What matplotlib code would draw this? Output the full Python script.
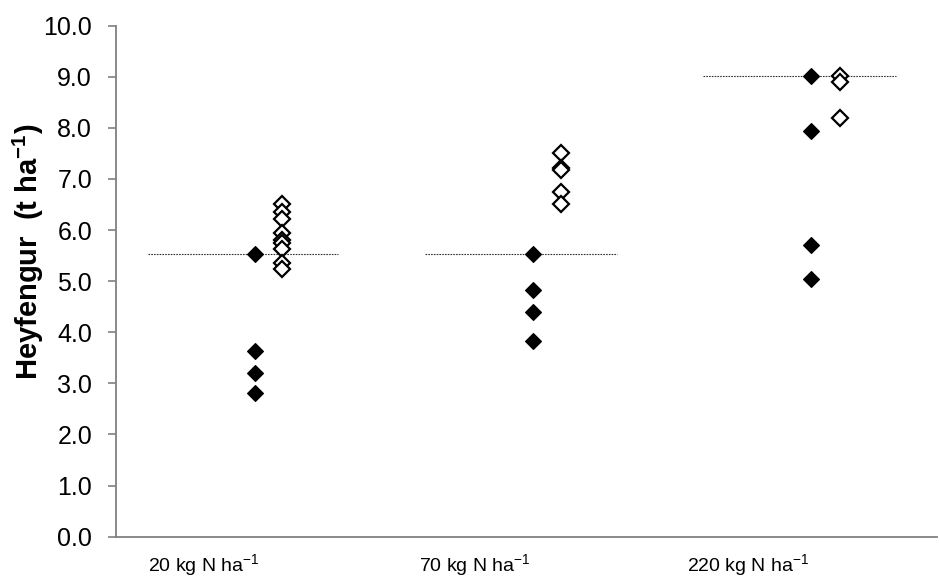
import matplotlib
matplotlib.use("Agg")
import matplotlib.pyplot as plt

plt.rcParams['font.family'] = ['Liberation Sans', 'DejaVu Sans']
plt.rcParams['mathtext.fontset'] = 'custom'
plt.rcParams['mathtext.rm'] = 'Liberation Sans'
plt.rcParams['mathtext.bf'] = 'Liberation Sans:bold'
plt.rcParams['mathtext.default'] = 'regular'

# Category labels and their x positions (axis spans 0..3)
categories = ["20 kg N ha$^{-1}$", "70 kg N ha$^{-1}$", "220 kg N ha$^{-1}$"]
label_pos = [0.32, 1.31, 2.31]

# x positions of the two series per group
filled_x = [0.51, 1.525, 2.54]
open_x = [0.607, 1.627, 2.645]

# Yield values (t/ha)
filled_20 = [5.53, 3.64, 3.20, 2.82]
filled_70 = [5.53, 4.83, 4.40, 3.82]
filled_220 = [9.02, 7.93, 5.71, 5.04]
open_20 = [6.51, 6.36, 6.21, 5.94, 5.80, 5.74, 5.63, 5.35, 5.23]
open_70 = [7.51, 7.22, 7.18, 6.74, 6.51]
open_220 = [9.02, 8.90, 8.19]

# Reference (dotted) lines: level, x start, x end
ref_levels = [5.53, 5.53, 9.02]
ref_start = [0.118, 1.13, 2.145]
ref_end = [0.812, 1.83, 2.85]

filled_groups = [filled_20, filled_70, filled_220]
open_groups = [open_20, open_70, open_220]

fig = plt.figure(figsize=(9.4, 5.79), dpi=100)
ax = fig.add_axes([0.1231, 0.0731, 0.8737, 0.8825])

for lvl, x0, x1 in zip(ref_levels, ref_start, ref_end):
    ax.plot([x0, x1], [lvl, lvl], color='#333333', lw=0.8,
            linestyle=(0, (1.5, 1)), zorder=1)

for x, vals in zip(filled_x, filled_groups):
    ax.plot([x] * len(vals), vals, linestyle='none', marker='D', ms=8.5,
            mfc='black', mec='black', mew=0.8, zorder=3)

for x, vals in zip(open_x, open_groups):
    ax.plot([x] * len(vals), vals, linestyle='none', marker='D', ms=8.5,
            mfc='white', mec='black', mew=1.6, zorder=3)

ax.set_xlim(0, 3)
ax.set_ylim(0, 10)
ax.set_yticks([i for i in range(11)])
ax.set_yticklabels([f"{i:.1f}" for i in range(11)], fontsize=18)
ax.set_xticks(label_pos)
ax.set_xticklabels(categories, fontsize=14)
ax.tick_params(axis='x', length=0, pad=11)
ax.tick_params(axis='y', direction='out', length=6, width=1.2, color='#808080', pad=11)

for s in ['top', 'right']:
    ax.spines[s].set_visible(False)
for s in ['left', 'bottom']:
    ax.spines[s].set_color('#808080')
    ax.spines[s].set_linewidth(1.3)

fig.text(28 / 940, 1 - 252 / 579, "Heyfengur  (t ha$^{-1}$)", fontsize=21,
         fontweight='bold', rotation=90, ha='center', va='center')

fig.savefig("out.png", dpi=100)
